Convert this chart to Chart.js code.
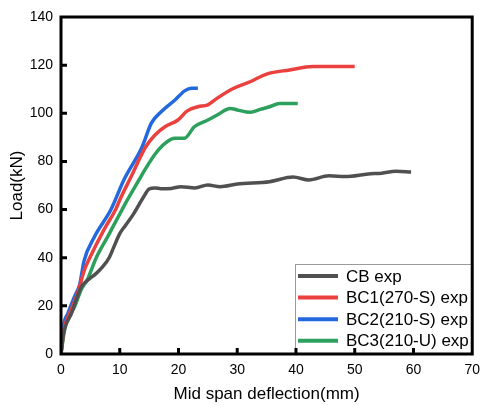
<!DOCTYPE html>
<html>
<head>
<meta charset="utf-8">
<script src="https://cdn.jsdelivr.net/npm/chart.js@4/dist/chart.umd.min.js"></script>
<style>
  html, body { margin: 0; padding: 0; background: #fff; }
  #wrap { width: 488px; height: 405px; }
</style>
</head>
<body>
<div id="wrap"><canvas id="myChart" width="488" height="405"></canvas></div>
<script>
var names = ["CB exp", "BC1(270-S) exp", "BC2(210-S) exp", "BC3(210-U) exp"];
var colors = ["rgb(80, 80, 80)", "rgb(234, 64, 62)", "rgb(36, 104, 222)", "rgb(44, 160, 92)"];

var cb_x = [0, 0.4, 1.8, 3.5, 4.5, 6.0, 7.0, 8.2, 9.0, 10.0, 11.0, 12.3, 14.0, 15.0, 16.0, 17.0, 18.8, 20.4, 22.8, 25.0, 27.1, 30.0, 35.5, 39.5, 42.2, 45.6, 48.4, 52.3, 54.6, 57.0, 59.6];
var cb_y = [0, 8, 17, 28, 30.5, 33.5, 36, 40, 44.5, 50, 53.5, 58, 65, 68.5, 69, 68.7, 68.8, 69.5, 69, 70.2, 69.5, 70.6, 71.6, 73.5, 72.3, 74, 73.7, 74.8, 75.1, 75.9, 75.6];

var bc1_x = [0, 0.5, 1.5, 2.8, 4.0, 4.9, 7.4, 9.3, 10.0, 11.8, 14.4, 16.0, 17.7, 19.9, 21.5, 23.3, 25.0, 26.6, 29.5, 32.2, 35.0, 38.9, 42.9, 50.0];
var bc1_y = [0, 10, 17, 25, 35, 40, 52, 60, 64, 73, 86, 91, 94.4, 97.2, 101, 102.7, 103.5, 106.3, 110.5, 113.1, 116.3, 118, 119.4, 119.4];

var bc2_x = [0, 0.4, 1.2, 2.3, 3.2, 3.5, 3.9, 5.7, 8.5, 10.7, 13.8, 15.4, 17.1, 19.4, 21.1, 22.2, 23.3];
var bc2_y = [0, 11.3, 17, 23.8, 29, 33, 38.5, 48.7, 60, 72.3, 86, 96, 100.7, 105.5, 109.4, 110.4, 110.4];

var bc3_x = [0, 0.7, 2.3, 3.5, 4.5, 6.0, 8.0, 10.4, 11.3, 13.2, 14.4, 16.0, 17.7, 19.4, 21.0, 22.7, 25.0, 26.6, 28.8, 30.0, 32.2, 33.9, 35.5, 37.2, 40.3];
var bc3_y = [0, 11.3, 19.6, 27, 31, 40, 49, 60, 64, 72, 77, 83, 87.5, 89.6, 89.6, 94.4, 97.2, 99.3, 102, 101.4, 100.4, 101.6, 102.7, 104.1, 104.1];

var x_ticks = [0, 10, 20, 30, 40, 50, 60, 70];
var y_ticks = [0, 20, 40, 60, 80, 100, 120, 140];

function toPoints(xs, ys) {
  var pts = [];
  for (var i = 0; i < xs.length; i++) {
    pts.push({ x: xs[i], y: ys[i] });
  }
  return pts;
}

var series = [toPoints(cb_x, cb_y), toPoints(bc1_x, bc1_y), toPoints(bc2_x, bc2_y), toPoints(bc3_x, bc3_y)];

var datasets = [];
for (var i = 0; i < series.length; i++) {
  datasets.push({
    label: names[i],
    data: series[i],
    borderColor: colors[i],
    backgroundColor: colors[i],
    borderWidth: 3.5,
    pointRadius: 0,
    showLine: true,
    tension: 0.3,
    cubicInterpolationMode: "monotone",
    fill: false
  });
}

// frame, inward ticks and the boxed legend
var framePlugin = {
  id: "frame",
  afterDraw: function(chart) {
    var ctx = chart.ctx;
    var a = chart.chartArea;
    var xs = chart.scales.x;
    var ys = chart.scales.y;

    // legend box
    var bx = 295, by = 264;
    ctx.save();
    ctx.fillStyle = "#fff";
    ctx.fillRect(bx, by, a.right - bx, a.bottom - by);
    ctx.strokeStyle = "#9a9a9a";
    ctx.lineWidth = 1;
    ctx.strokeRect(bx + 0.5, by + 0.5, a.right - bx, a.bottom - by);
    ctx.font = "17px 'Liberation Sans', Arial, sans-serif";
    ctx.textBaseline = "middle";
    ctx.fillStyle = "#000";
    chart.data.datasets.forEach(function(ds, k) {
      var yy = 276 + k * 21.6;
      ctx.strokeStyle = ds.borderColor;
      ctx.lineWidth = 4;
      ctx.beginPath();
      ctx.moveTo(298, yy);
      ctx.lineTo(338, yy);
      ctx.stroke();
      ctx.fillText(ds.label, 346, yy + 1);
    });

    // frame
    ctx.strokeStyle = "#000";
    ctx.lineWidth = 3;
    ctx.strokeRect(a.left, a.top, a.right - a.left, a.bottom - a.top);

    // ticks pointing in
    ctx.beginPath();
    x_ticks.slice(1, -1).forEach(function(v) {
      var px = xs.getPixelForValue(v);
      ctx.moveTo(px, a.bottom);
      ctx.lineTo(px, a.bottom - 6);
    });
    y_ticks.slice(1, -1).forEach(function(v) {
      var py = ys.getPixelForValue(v);
      ctx.moveTo(a.left, py);
      ctx.lineTo(a.left + 6, py);
    });
    ctx.stroke();
    ctx.restore();
  }
};

var tickFont = { family: "'Liberation Sans', Arial, sans-serif", size: 14 };
var titleFont = { family: "'Liberation Sans', Arial, sans-serif", size: 17 };

var ctx = document.getElementById("myChart").getContext("2d");
var chart = new Chart(ctx, {
  type: "scatter",
  data: { datasets: datasets },
  options: {
    responsive: false,
    animation: false,
    layout: { padding: { top: 17, right: 9, left: 0, bottom: 0 } },
    plugins: {
      legend: { display: false },
      tooltip: { enabled: false }
    },
    scales: {
      x: {
        type: "linear",
        min: 0,
        max: 70,
        afterBuildTicks: function(scale) {
          scale.ticks = x_ticks.map(function(v) { return { value: v }; });
        },
        afterFit: function(scale) { scale.height = 51; },
        grid: { display: false, drawTicks: false },
        border: { display: false },
        ticks: { color: "#000", font: tickFont, padding: 8, maxRotation: 0 },
        title: { display: true, text: "Mid span deflection(mm)", color: "#000", font: titleFont, padding: { top: 0, bottom: 0 } }
      },
      y: {
        type: "linear",
        min: 0,
        max: 140,
        afterBuildTicks: function(scale) {
          scale.ticks = y_ticks.map(function(v) { return { value: v }; });
        },
        afterFit: function(scale) { scale.width = 61; },
        grid: { display: false, drawTicks: false },
        border: { display: false },
        ticks: { color: "#000", font: tickFont, padding: 8 },
        title: { display: true, text: "Load(kN)", color: "#000", font: titleFont, padding: { top: 7, bottom: 0 } }
      }
    }
  },
  plugins: [framePlugin]
});
</script>
</body>
</html>
